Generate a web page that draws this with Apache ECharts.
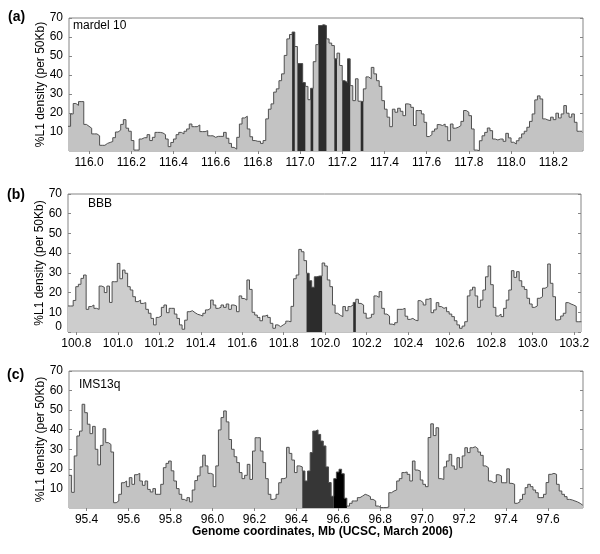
<!DOCTYPE html>
<html>
<head>
<meta charset="utf-8">
<script src="https://cdn.jsdelivr.net/npm/echarts@6/dist/echarts.min.js"></script>
<style>
  html, body { margin: 0; background: #fff; }
  #main { width: 600px; height: 554px; }
</style>
</head>
<body>
<div id="main"></div>
<script>
// bin width (Mb) of the sliding windows
const BIN = 0.0125

// (a) mardel 10
const aStart = 115.9
const aTicks = [116.0, 116.2, 116.4, 116.6, 116.8, 117.0, 117.2, 117.4, 117.6, 117.8, 118.0, 118.2]
const aValues = [
  13, 19.5, 25, 24, 26, 26, 14, 13, 12, 9, 9, 8, 3, 3, 4, 4.5, 5, 7, 10, 11,
  14, 16.5, 12, 10.4, 5.5, 0.5, 0.5, 6.3, 7, 7, 8.6, 5.5, 7.2, 9.8, 9.8, 9.5, 8.6, 6.3, 2.3, 4.5,
  6.3, 8.6, 9.8, 9, 10.4, 11.6, 14.2, 12.8, 12.8, 13.7, 10.2, 10.2, 10.7, 8, 8, 7.2, 7.7, 7.7, 7.7, 9.8,
  6.7, 4, 1.9, 1, 7.2, 14.2, 17.4, 18.3, 11.6, 7.5, 5.5, 5.1, 5.1, 4, 5.5, 16.9, 22, 24.8, 31, 32.7,
  37, 40.6, 50.3, 59, 61.3, 62.6, 55, 46, 46, 36, 34, 27, 33, 47, 56, 66, 66.5, 66, 59, 56.8,
  55.5, 48.5, 51.5, 45, 37, 36, 48.5, 34.4, 26.5, 38, 26.2, 26, 32.7, 39, 38, 44, 40.6, 37, 34, 26.5,
  22, 17.8, 12.8, 22, 20.4, 22.5, 20.9, 18.6, 24.8, 24.4, 23, 13.4, 21.3, 21.3, 19.5, 15.1, 7.6, 8.6, 10.4, 11.6,
  13.9, 13.4, 14.2, 12.8, 5.4, 14.2, 12, 12.5, 13.4, 15.6, 21.3, 20.4, 18.6, 11.6, 0.5, 0.2, 5.4, 8, 9.8, 12.1,
  10.7, 6.3, 5.8, 6.3, 6.3, 5.1, 9.3, 6.9, 4.6, 3.7, 5.4, 6.9, 9, 10.4, 12.5, 15.6, 19.5, 26.9, 29, 27.4,
  16.9, 16.3, 16, 17.8, 16.5, 19.9, 17.4, 19.5, 23.9, 19.9, 17.8, 19.5, 15.1, 10.4, 10.4
]
const aDark = [85, 87, 88, 89, 92, 95, 96, 97, 101, 104, 105, 106, 111]

// (b) BBB
const bStart = 100.76
const bTicks = [100.8, 101.0, 101.2, 101.4, 101.6, 101.8, 102.0, 102.2, 102.4, 102.6, 102.8, 103.0, 103.2]
const bValues = [
  13.2, 13.2, 16, 23, 24.2, 27.2, 28.9, 11.5, 12.9, 13.7, 12, 11.5, 23.3, 22.7, 20, 23.3, 15, 25.5, 25.5, 34.8,
  27, 31.4, 29.8, 23, 21.3, 17.9, 15.4, 16.2, 14.5, 14.9, 11.5, 9.5, 6.9, 3.6, 7.4, 8.1, 12.5, 13.7, 9.8, 12,
  12, 9.1, 6.9, 3.6, 1.4, 6, 10.3, 10.8, 9.8, 9, 8.6, 8.1, 9.5, 11.2, 12, 16.2, 13.7, 12, 12.5, 13.7,
  12.5, 14.2, 11.5, 13.7, 13.2, 10.3, 18.3, 17, 16.2, 26.4, 21.6, 10, 8.6, 7.4, 5.7, 8.1, 8.6, 7.4, 4.4, 1.9,
  3.6, 2.7, 3.6, 4.4, 5.5, 5.2, 13, 27, 28.9, 41.9, 40.7, 36.2, 29.8, 26, 22.7, 28, 28.4, 28.4, 35, 33.5,
  26.4, 23, 13.7, 9.5, 8.5, 7.8, 12.9, 10.8, 12.9, 13.7, 15, 16.6, 14.5, 13.7, 9.5, 7, 7.4, 9, 18.3, 17.6,
  20.5, 12, 9.1, 8.1, 4, 3.6, 4.7, 11.5, 11.5, 12, 8, 6.4, 6.9, 6, 5.7, 15.9, 14.9, 13.7, 16.6, 17.1,
  9.8, 11.2, 14.9, 12.9, 12, 12.5, 10.3, 9.1, 7.8, 5.7, 3.6, 1.9, 3, 5.2, 18.3, 21.3, 22.7, 18.3, 12.5, 16.2,
  21.3, 28, 33.5, 24, 12.5, 8.1, 9.1, 7.8, 12, 16.2, 21.3, 31.1, 27.7, 30.6, 26, 23, 21.6, 17.1, 14.2, 12.5,
  13.2, 17.1, 17.9, 22.2, 23, 34.5, 24.7, 17.9, 6.1, 6.4, 8.1, 9.5, 14.9, 14.2, 13.7, 13, 5.2, 5.2
]
const bDark = [92, 93, 94, 95, 96, 97, 110]

// (c) IMS13q
const cStart = 95.316
const cTicks = [95.4, 95.6, 95.8, 96.0, 96.2, 96.4, 96.6, 96.8, 97.0, 97.2, 97.4, 97.6]
const cValues = [
  16.7, 8, 26.6, 36.8, 39.3, 53, 48.7, 42.8, 38, 41.7, 30, 22, 32, 40.5, 33.4, 32.5, 28.6, 2.7, 3.6, 7,
  12.9, 13.8, 10.9, 15.5, 12.1, 17, 17.7, 13.8, 11.6, 13.8, 9.5, 8.2, 9.9, 7, 7, 12.1, 20.6, 22.8, 24, 19,
  13.8, 9.9, 7, 4.4, 3.6, 5.3, 3.1, 9.2, 14, 16.4, 21, 27, 21.5, 17.7, 17.2, 10.9, 21.5, 39.9, 46.2, 49.6,
  44, 35, 30, 26.2, 23.2, 18.1, 15, 16.7, 22.3, 14.6, 29.1, 35.9, 35.9, 29.1, 23.2, 15, 7, 4.4, 4.8, 7,
  12.9, 15, 15.5, 31, 27.9, 24.5, 18.1, 21.5, 21, 18.9, 13.8, 18.9, 28.3, 39.3, 39.9, 37.6, 34.2, 31.7, 21, 13,
  6, 15, 18.4, 19.8, 17.5, 5, 1, 2.4, 3.6, 3.6, 5.3, 6.1, 7, 6.5, 5.8, 4.4, 3.6, 1, 0.2, 0.2,
  0.2, 0.5, 7.8, 8.7, 9.2, 13.8, 15, 18.1, 18.4, 17.2, 13.8, 24, 19.4, 18.9, 14.3, 12.1, 10.9, 36, 43, 37,
  41, 15, 14.6, 21, 24, 27.4, 21.5, 19.8, 25.7, 20.6, 26.6, 30.8, 28.3, 30.8, 31.3, 30.3, 28.6, 26.9, 21.5, 20.6,
  13.8, 12.9, 13.3, 17, 16.4, 12.9, 12.9, 20, 12.6, 12.1, 2.4, 3.1, 4.4, 7, 10.4, 12.1, 10.9, 9.2, 7.8, 5.3,
  5.3, 7, 13, 17.2, 17.7, 17.2, 12.1, 8.7, 7, 5.8, 4.4, 4.1, 3.6, 3.1, 2.4, 1.4
]
const cDark = [89, 90, 91, 92, 93, 94, 95, 96, 97, 98, 99, 100]
const cBlack = [101, 102, 103, 104, 105]

const yLabels = [10, 20, 30, 40, 50, 60, 70]
const yLabelsZero = [0, 10, 20, 30, 40, 50, 60, 70]

const FONT = "'Liberation Sans', Arial, Helvetica, sans-serif"
const FRAME = '#858585'

// step points: each bin drawn flat from its start to the next bin start
function steps (start, vals, keep) {
  const pts = vals.map((v, i) => [start + i * BIN, keep && keep.indexOf(i) < 0 ? 0 : v])
  pts.push([start + vals.length * BIN, pts[pts.length - 1][1]])
  return pts
}

const panels = [
  { grid: { left: 69, top: 18, width: 514, height: 133 }, xmin: 115.905, xmax: 118.341, ticks: aTicks, yl: yLabels,
    start: aStart, vals: aValues, fill: '#c3c3c3', marks: [{ idx: aDark, color: '#2c2c2c' }] },
  { grid: { left: 68, top: 194, width: 513, height: 138 }, xmin: 100.76, xmax: 103.233, ticks: bTicks, yl: yLabelsZero,
    start: bStart, vals: bValues, fill: '#cdcdcd', marks: [{ idx: bDark, color: '#2c2c2c' }] },
  { grid: { left: 69, top: 371, width: 514, height: 137 }, xmin: 95.316, xmax: 97.767, ticks: cTicks, yl: yLabels,
    start: cStart, vals: cValues, fill: '#c3c3c3', marks: [{ idx: cDark, color: '#363636' }, { idx: cBlack, color: '#000' }] }
]

const grid = []
const xAxis = []
const yAxis = []
const series = []

panels.forEach((p, k) => {
  grid.push(Object.assign({ show: true, borderColor: FRAME, borderWidth: 1 }, p.grid))
  // bottom axis with labels
  xAxis.push({
    type: 'value', gridIndex: k, min: p.xmin, max: p.xmax,
    axisLine: { show: false }, splitLine: { show: false },
    axisTick: { inside: true, length: 3, lineStyle: { color: FRAME }, customValues: p.ticks },
    axisLabel: { customValues: p.ticks, formatter: v => v.toFixed(1), color: '#000', fontSize: 12, fontFamily: FONT, margin: 6 }
  })
  yAxis.push({
    type: 'value', gridIndex: k, min: 0, max: 70,
    name: '%L1 density (per 50Kb)', nameLocation: 'middle', nameGap: 22, nameMoveOverlap: false,
    nameTextStyle: { fontSize: 12, fontFamily: FONT, color: '#000' },
    axisLine: { show: false }, splitLine: { show: false },
    axisTick: { inside: true, length: 3, lineStyle: { color: FRAME }, customValues: p.yl },
    axisLabel: {
      customValues: p.yl, color: '#000', fontSize: 12, fontFamily: FONT, margin: 6,
      formatter: v => (v === 0 ? '{lo|0}' : String(v)),
      rich: { lo: { fontSize: 12, fontFamily: FONT, color: '#000', padding: [0, 0, 10, 0] } }
    }
  })
  series.push({
    type: 'line', xAxisIndex: k, yAxisIndex: k, step: 'end', symbol: 'none', silent: true,
    data: steps(p.start, p.vals),
    lineStyle: { color: '#505050', width: 1 },
    areaStyle: { color: p.fill, opacity: 1 }
  })
  p.marks.forEach(m => {
    series.push({
      type: 'line', xAxisIndex: k, yAxisIndex: k, step: 'end', symbol: 'none', silent: true,
      data: steps(p.start, p.vals, m.idx),
      lineStyle: { width: 0, opacity: 0 },
      areaStyle: { color: m.color, opacity: 1 }
    })
  })
})

// top and right tick marks (box axes)
panels.forEach((p, k) => {
  xAxis.push({
    type: 'value', gridIndex: k, min: p.xmin, max: p.xmax, position: 'top',
    axisLine: { show: false }, splitLine: { show: false }, axisLabel: { show: false },
    axisTick: { inside: true, length: 3, lineStyle: { color: FRAME }, customValues: p.ticks }
  })
  yAxis.push({
    type: 'value', gridIndex: k, min: 0, max: 70, position: 'right',
    axisLine: { show: false }, splitLine: { show: false }, axisLabel: { show: false },
    axisTick: { inside: true, length: 3, lineStyle: { color: FRAME }, customValues: p.yl }
  })
})

const bold = { fontSize: 14, fontWeight: 'bold', fontFamily: FONT, color: '#000' }
const plain = { fontSize: 12, fontWeight: 'normal', fontFamily: FONT, color: '#000' }

const myChart = echarts.init(document.getElementById('main'))
myChart.setOption({
  animation: false,
  title: [
    { text: '(a)', left: 8, top: 10, padding: 0, textStyle: bold },
    { text: 'mardel 10', left: 73, top: 20, padding: 0, textStyle: plain },
    { text: '(b)', left: 7, top: 188, padding: 0, textStyle: bold },
    { text: 'BBB', left: 88, top: 198, padding: 0, textStyle: plain },
    { text: '(c)', left: 7, top: 368, padding: 0, textStyle: bold },
    { text: 'IMS13q', left: 79, top: 379, padding: 0, textStyle: plain },
    { text: 'Genome coordinates, Mb (UCSC, March 2006)', left: 192, top: 526, padding: 0,
      textStyle: { fontSize: 12, fontWeight: 'bold', fontFamily: FONT, color: '#000' } }
  ],
  grid: grid,
  xAxis: xAxis,
  yAxis: yAxis,
  series: series
})
</script>
</body>
</html>
